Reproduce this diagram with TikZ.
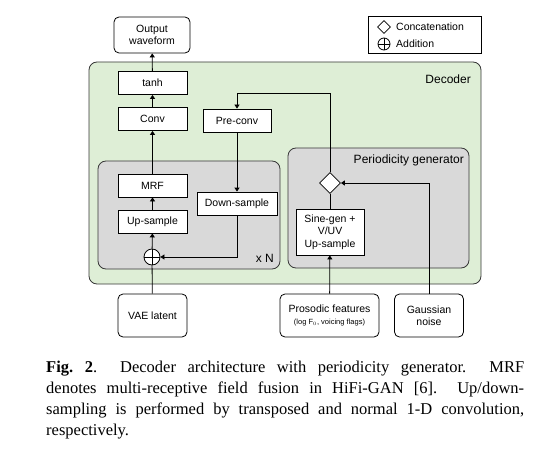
\documentclass[tikz,border=0pt]{standalone}
\usepackage{fontspec}
\setmainfont{Liberation Serif}
\newfontfamily\diagfont{Liberation Sans}
\usepackage{xcolor}
\definecolor{decgreen}{RGB}{222,238,214}
\definecolor{boxgray}{RGB}{217,217,217}
\definecolor{edgegray}{RGB}{55,55,55}
\usetikzlibrary{shapes.geometric, arrows.meta, positioning, calc}

\begin{document}
\begin{tikzpicture}[x=1pt, y=-1pt,
      blk/.style={rectangle, draw=black, fill=white, line width=0.8pt, font=\diagfont\fontsize{10.5}{12.5}\selectfont, minimum height=23pt, minimum width=69pt, align=center, inner sep=1pt},
      io/.style={blk, rounded corners=5pt, minimum height=43pt},
      group/.style={rectangle, rounded corners=8pt, draw=edgegray, line width=0.8pt},
      lbl/.style={font=\diagfont\fontsize{12}{14}\selectfont, anchor=east, inner sep=0pt},
      addop/.style={circle, draw=black, fill=white, line width=0.8pt, inner sep=0pt, path picture={\draw[line width=0.8pt] (path picture bounding box.north) -- (path picture bounding box.south) (path picture bounding box.west) -- (path picture bounding box.east);}},
      catop/.style={diamond, draw=black, fill=white, line width=0.8pt, inner sep=0pt},
      arr/.style={-{Triangle[length=4pt, width=5pt]}, line width=0.8pt},
      ln/.style={line width=0.8pt}
  ]
    \useasboundingbox (0,0) rectangle (548,457);

    % Containers
    \node[group, fill=decgreen, minimum width=392pt, minimum height=222pt] (dec) at (285,173) {};
    \node[group, fill=boxgray, minimum width=182pt, minimum height=108pt] (loop) at (189,215) {};
    \node[group, fill=boxgray, minimum width=181pt, minimum height=120pt] (pgen) at (378.5,208) {};
    \node[lbl] (declbl) at (471,79) {Decoder};
    \node[lbl] (pgenlbl) at (464,160) {Periodicity generator};
    \node[lbl] (nlbl) at (274,258) {x N};

    % Legend
    \node[rectangle, draw=black, line width=0.8pt, minimum width=113pt, minimum height=37pt] (legend) at (424.5,34.5) {};
    \node[catop, minimum width=13pt, minimum height=13pt] (legcat) at (384,27) {};
    \node[addop, minimum size=12pt] (legadd) at (384,44) {};
    \node[font=\diagfont\fontsize{10.5}{12}\selectfont, anchor=west, inner sep=0pt] (legcattxt) at (396,27) {Concatenation};
    \node[font=\diagfont\fontsize{10.5}{12}\selectfont, anchor=west, inner sep=0pt] (legaddtxt) at (396,44) {Addition};

    % Main path
    \node[io, minimum width=76pt, minimum height=36pt] (out) at (152,35) {Output\\waveform};
    \node[blk] (tanh) at (152.5,83) {tanh};
    \node[blk] (conv) at (152.5,119) {Conv};
    \node[blk, minimum width=68pt] (preconv) at (237,120.5) {Pre-conv};
    \node[blk] (mrf) at (152.5,185.5) {MRF};
    \node[blk] (up) at (152.5,221.5) {Up-sample};
    \node[blk, minimum width=80pt] (down) at (237,203.5) {Down-sample};
    \node[addop, minimum size=16pt] (add) at (152,257) {};
    \node[io] (vae) at (152.5,315.5) {VAE latent};

    % Periodicity generator
    \node[catop, minimum width=21pt, minimum height=21pt] (cat) at (330,183) {};
    \node[blk, minimum width=68pt, minimum height=46pt] (sine) at (330,232) {Sine-gen +\\V/UV\\Up-sample};
    \node[io, minimum width=99pt] (pros) at (329.5,315.5) {Prosodic features\\[-1pt]{\fontsize{7.5}{9}\selectfont (log F$_0$, voicing flags)}};
    \node[io] (noise) at (429,315.5) {Gaussian\\noise};
    \coordinate (top) at (330,93);

    % Connections
    \draw[arr] (tanh) -- (out); \draw[arr] (conv) -- (tanh); \draw[arr] (mrf) -- (conv);
    \draw[arr] (up) -- (mrf); \draw[arr] (add) -- (up);
    \draw[ln] (vae) -- (add);
    \draw[arr] (preconv) -- (down);
    \draw[arr] (down.south) |- (add.east);
    \draw[arr] (cat.north) -- (top) -| (preconv.north);
    \draw[ln] (sine) -- (cat);
    \draw[arr] (pros) -- (sine);
    \draw[arr] (noise.north) |- (cat.east);

    % Caption
    \node[anchor=north west, inner sep=0pt, text width=478pt, align=justify, font=\fontsize{16.5}{21}\selectfont] (caption) at (46,361) {\textbf{Fig.~2}.\ \ Decoder architecture with periodicity generator.\ \ MRF\linebreak denotes multi-receptive field fusion in HiFi-GAN [6].\ \ Up/down-\linebreak sampling is performed by transposed and normal 1-D convolution,\linebreak respectively.};
  \end{tikzpicture}
\end{document}
